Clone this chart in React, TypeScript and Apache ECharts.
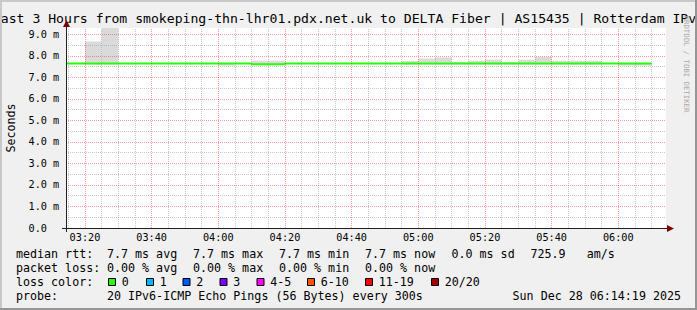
import React, { useEffect, useRef } from 'react';
import * as echarts from 'echarts';

const MONO = '"DejaVu Sans Mono", monospace';

// ---- data (times are HH:MM[:SS]) ----
const startTime = '03:14:19';
const endTime = '06:14:19';
const xTickLabels = ['03:20', '03:40', '04:00', '04:20', '04:40', '05:00', '05:20', '05:40', '06:00'];
const yTickValues = [0, 1, 2, 3, 4, 5, 6, 7, 8, 9];

// smoke bins (5 min each): lowest and highest ping in ms
const smokeBins = ['03:20', '03:25', '04:00', '04:10', '04:15', '04:55', '05:00', '05:05', '05:10', '05:15', '05:20', '05:25', '05:30', '05:35', '05:40', '05:45', '05:50', '06:00', '06:05'];
const smokeLow = [7.6, 7.6, 7.55, 7.6, 7.6, 7.6, 7.6, 7.6, 7.6, 7.6, 7.6, 7.6, 7.6, 7.6, 7.6, 7.6, 7.6, 7.55, 7.55];
const smokeHigh = [8.67, 9.8, 7.65, 7.78, 7.78, 7.77, 7.88, 7.93, 7.72, 7.78, 7.83, 7.72, 7.82, 7.96, 7.78, 7.78, 7.78, 7.65, 7.65];

// median rtt (step line, value holds until next time)
const medianTimes = ['03:14:19', '04:10', '04:20', '06:10'];
const medianValues = [7.65, 7.61, 7.65, 7.65];

// legend texts
const titleText = 'Last 3 Hours from smokeping-thn-lhr01.pdx.net.uk to DELTA Fiber | AS15435 | Rotterdam IPv6';
const rttItems = ['7.7 ms avg', '7.7 ms max', '7.7 ms min', '7.7 ms now', '0.0 ms sd', '725.9   am/s'];
const lossItems = ['0.00 % avg', '0.00 % max', '0.00 % min', '0.00 % now'];
const lossLabels = ['0', '1', '2', '3', '4-5', '6-10', '11-19', '20/20'];
const lossColors = ['#26ff00', '#00b8ff', '#0059ff', '#7e00ff', '#ff00ff', '#ff5500', '#ff0000', '#a10000'];
const probeText = '20 IPv6-ICMP Echo Pings (56 Bytes) every 300s';
const dateText = 'Sun Dec 28 06:14:19 2025';

const BIN = 5; // minutes
const toMin = (s: string) => {
  const p = s.split(':').map(Number);
  return p[0] * 60 + p[1] + (p[2] || 0) / 60;
};
const fmt = (v: number) => {
  const m = Math.round(v);
  const h = Math.floor(m / 60);
  const mm = m % 60;
  return String(h).padStart(2, '0') + ':' + String(mm).padStart(2, '0');
};

export default function App() {
  const ref = useRef<HTMLDivElement>(null);
  useEffect(() => {
    document.body.style.margin = '0';
    const chart = echarts.init(ref.current!, null, { renderer: 'svg' });
    const xMin = toMin(startTime);
    const xMax = toMin(endTime);
    const yMax = 9.3;

    const minorColor = 'rgba(143,143,143,0.5)';
    const majorColor = 'rgba(240,0,0,0.38)';
    const gridLines: any[] = [];
    const majorX = xTickLabels.map(toMin);
    for (let t = Math.ceil(xMin / BIN) * BIN; t < xMax; t += BIN) {
      const isMajor = majorX.some((m) => Math.abs(m - t) < 0.01);
      gridLines.push({ xAxis: t, lineStyle: { color: isMajor ? majorColor : minorColor, type: [1, 1], width: 1 } });
    }
    for (let v = 0.5; v < yMax; v += 0.5) {
      const isMajor = Math.abs(v - Math.round(v)) < 0.01;
      gridLines.push({ yAxis: v, lineStyle: { color: isMajor ? majorColor : minorColor, type: [1, 1], width: 1 } });
    }

    const legendX = [107, 193, 279, 365, 451.5, 530.5];
    const boxX = [108, 146, 182.5, 219.5, 256.5, 307, 365, 431];
    const txt = (text: string, x: number, y: number, extra: any = {}) => ({
      type: 'text',
      x,
      y,
      z: 20,
      style: {
        text,
        fontFamily: MONO,
        fontSize: 11.67,
        fill: '#000',
        align: 'left',
        verticalAlign: 'middle',
        ...extra,
      },
    });

    const graphics: any[] = [
      txt(titleText, 348.5, 18.5, { fontSize: 13.13, align: 'center' }),
      { ...txt('Seconds', 10.5, 128, { align: 'center' }), rotation: Math.PI / 2 },
      { ...txt('RRDTOOL / TOBI OETIKER', 686, 64, { align: 'center', fontSize: 7.3, fill: '#a8a8a8' }), rotation: -Math.PI / 2 },
      txt('median rtt:', 16, 254),
      ...rttItems.map((s, i) => txt(s, legendX[i], 254)),
      txt('packet loss:', 16, 268),
      ...lossItems.map((s, i) => txt(s, legendX[i], 268)),
      txt('loss color:', 16, 282),
      ...lossLabels.map((s, i) => txt(s, boxX[i] + 13.7, 282)),
      ...lossColors.map((c, i) => ({
        type: 'rect',
        z: 20,
        shape: { x: boxX[i] + 0.5, y: 278.5, width: 7, height: 7 },
        style: { fill: c, stroke: '#000', lineWidth: 1 },
      })),
      txt('probe:', 16, 296),
      txt(probeText, 107, 296),
      txt(dateText, 681, 296, { align: 'right' }),
      // axes
      { type: 'line', z: 20, shape: { x1: 62, y1: 228.5, x2: 668, y2: 228.5 }, style: { stroke: '#202020', lineWidth: 1 } },
      { type: 'line', z: 20, shape: { x1: 66.5, y1: 232, x2: 66.5, y2: 26 }, style: { stroke: '#202020', lineWidth: 1 } },
      { type: 'polygon', z: 21, shape: { points: [[667, 225], [674, 228.5], [667, 232]] }, style: { fill: '#800000' } },
      { type: 'polygon', z: 21, shape: { points: [[63, 27], [66.5, 20], [70, 27]] }, style: { fill: '#800000' } },
      // 3D border
      { type: 'rect', z: 30, shape: { x: 0, y: 0, width: 697, height: 2 }, style: { fill: '#c8c8c8' } },
      { type: 'rect', z: 30, shape: { x: 0, y: 0, width: 2, height: 310 }, style: { fill: '#c8c8c8' } },
      { type: 'rect', z: 31, shape: { x: 0, y: 308, width: 697, height: 2 }, style: { fill: '#969696' } },
      { type: 'rect', z: 31, shape: { x: 695, y: 0, width: 2, height: 310 }, style: { fill: '#969696' } },
    ];

    chart.setOption({
      animation: false,
      backgroundColor: '#f0f0f0',
      grid: { left: 66, right: 31, top: 28, bottom: 82, show: true, backgroundColor: '#ffffff', borderWidth: 0 },
      xAxis: {
        type: 'value',
        min: xMin,
        max: xMax,
        axisLine: { show: false },
        axisTick: { show: false },
        splitLine: { show: false },
        axisLabel: {
          customValues: majorX,
          formatter: (v: number) => fmt(v),
          fontFamily: MONO,
          fontSize: 10.2,
          color: '#000',
          margin: 4,
        },
      },
      yAxis: {
        type: 'value',
        min: 0,
        max: yMax,
        interval: 1,
        axisLine: { show: false },
        axisTick: { show: false },
        splitLine: { show: false },
        axisLabel: {
          customValues: yTickValues,
          formatter: (v: number) => (v === 0 ? '0.0' : v.toFixed(1) + ' m'),
          fontFamily: MONO,
          fontSize: 10.2,
          color: '#000',
          align: 'left',
          margin: 37.5,
        },
      },
      graphic: graphics,
      series: [
        {
          type: 'line',
          data: [],
          z: 1,
          silent: true,
          markLine: { silent: true, symbol: ['none', 'none'], label: { show: false }, data: gridLines },
        },
        {
          type: 'custom',
          z: 2,
          silent: true,
          encode: { x: 0, y: [1, 2] },
          data: smokeBins.map((t, i) => [toMin(t), smokeLow[i], smokeHigh[i]]),
          renderItem: (params: any, api: any) => {
            const x0 = api.value(0);
            const p0 = api.coord([x0, api.value(1)]);
            const p1 = api.coord([x0 + BIN, api.value(2)]);
            const cs = params.coordSys;
            const r = echarts.graphic.clipRectByRect(
              { x: p0[0], y: p1[1], width: p1[0] - p0[0], height: p0[1] - p1[1] },
              { x: cs.x, y: cs.y, width: cs.width, height: cs.height }
            );
            if (!r) return null;
            return { type: 'rect', shape: r, style: { fill: '#dadada' } };
          },
        },
        {
          type: 'line',
          z: 3,
          silent: true,
          step: 'end',
          symbol: 'none',
          data: medianTimes.map((t, i) => [toMin(t), medianValues[i]]),
          lineStyle: { color: '#26ff00', width: 2 },
        },
      ],
    });
    return () => chart.dispose();
  }, []);
  return <div ref={ref} style={{ width: 697, height: 310 }} />;
}
